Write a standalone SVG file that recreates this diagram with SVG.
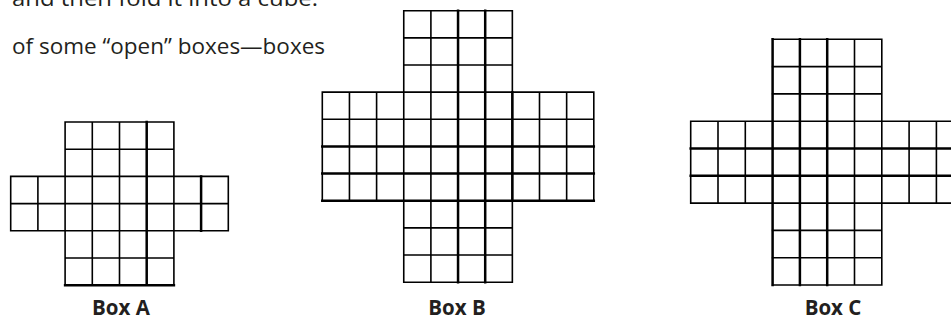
<svg xmlns="http://www.w3.org/2000/svg" width="951" height="321" viewBox="0 0 951 321">
<style>
.g{fill:none;stroke:#000;stroke-width:1.6;stroke-linecap:square}
.t{stroke-width:2.5}
.body{font-family:"Open Sans","Liberation Sans",sans-serif;font-size:21px;fill:#231f20}
.lbl{font-family:"Open Sans","Liberation Sans",sans-serif;font-size:20.5px;font-weight:bold;fill:#231f20;text-anchor:middle}
</style>
<rect width="951" height="321" fill="#fff"/>
<g id="text">
<text class="body" x="12" y="5.5" textLength="306" lengthAdjust="spacingAndGlyphs">and then fold it into a cube.</text>
<text class="body" x="12" y="54" textLength="313" lengthAdjust="spacingAndGlyphs">of some “open” boxes—boxes</text>
</g>
<g id="boxA">
<path class="g" d="M65.1 122H173.9M65.1 149.2H173.9M10.7 176.4H228.3M10.7 203.6H228.3M10.7 230.8H228.3M65.1 258H173.9
M10.7 176.4V230.8M37.9 176.4V230.8M228.3 176.4V230.8M65.1 122V285.2M92.3 122V285.2M119.5 122V285.2M173.9 122V285.2"/>
<path class="g t" d="M65.1 285.2H173.9M146.7 122V285.2M201.1 176.4V230.8"/>
<text class="lbl" x="121" y="315">Box A</text>
</g>
<g id="boxB">
<path class="g" d="M403.75 10.7H512.35M403.75 37.85H512.35M403.75 65H512.35M322.3 92.15H593.8M322.3 119.3H593.8M403.75 227.9H512.35M403.75 255.05H512.35M403.75 282.2H512.35
M322.3 92.15V200.75M349.45 92.15V200.75M376.6 92.15V200.75M539.5 92.15V200.75M566.65 92.15V200.75M593.8 92.15V200.75
M403.75 10.7V282.2M430.9 10.7V282.2M512.35 10.7V282.2"/>
<path class="g t" d="M322.3 146.45H593.8M322.3 173.6H593.8M322.3 200.75H593.8M458.05 10.7V282.2M485.2 10.7V282.2M512.35 92.15V200.75"/>
<text class="lbl" x="457" y="315">Box B</text>
</g>
<g id="boxC">
<path class="g" d="M772.6 39.3H881.8M772.6 66.6H881.8M772.6 93.9H881.8M690.7 121.2H963.7M690.7 203.1H963.7M772.6 230.4H881.8M772.6 257.7H881.8M772.6 285H881.8
M690.7 121.2V203.1M718 121.2V203.1M745.3 121.2V203.1M909.1 121.2V203.1M936.4 121.2V203.1
M854.5 39.3V285M881.8 39.3V285"/>
<path class="g t" d="M690.7 148.5H963.7M690.7 175.8H963.7M772.6 39.3V285M799.9 39.3V285M827.2 39.3V285"/>
<text class="lbl" x="833" y="315">Box C</text>
</g>
</svg>
